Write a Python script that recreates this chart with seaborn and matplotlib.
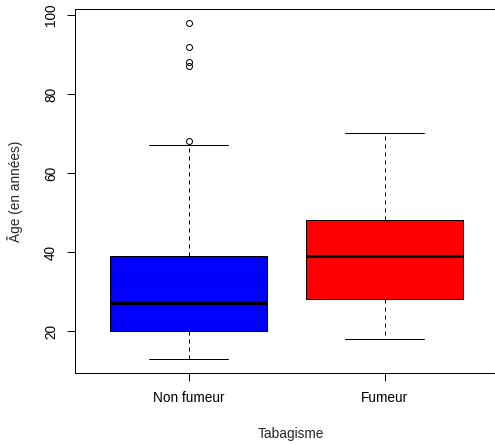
import matplotlib
matplotlib.use("Agg")
import matplotlib.pyplot as plt
import pandas as pd
import seaborn as sns

# ---- data ----
categories = ["Non fumeur", "Fumeur"]
non_fumeur_ages = [13, 15, 16, 17, 18, 19, 19, 20, 21, 22, 23, 24, 25, 26, 27,
                   29, 30, 32, 34, 35, 37, 39, 50, 67, 68, 87, 88, 92, 98]
fumeur_ages = [18, 20, 22, 24, 26, 28, 30, 33, 35, 37, 39, 41, 43, 45, 46,
               48, 52, 56, 60, 65, 70]
box_colors = ["#0000FF", "#FF0000"]
y_ticks = [20, 40, 60, 80, 100]

df = pd.DataFrame({
    "Tabagisme": [categories[0]] * len(non_fumeur_ages) + [categories[1]] * len(fumeur_ages),
    "Age": non_fumeur_ages + fumeur_ages,
})

sns.set_theme(style="ticks")
plt.rcParams["font.family"] = ["Liberation Sans", "DejaVu Sans"]

px = 0.72
fs = 9.8
fig = plt.figure(figsize=(4.95, 4.45), dpi=100)
ax_w_px = 432
ax = fig.add_axes([75 / 495, 1 - 373 / 445, ax_w_px / 495, 364 / 445])

sns.boxplot(
    data=df, x="Tabagisme", y="Age", hue="Tabagisme", order=categories,
    hue_order=categories, palette=box_colors, saturation=1, width=0.8,
    whis=1.5, linecolor="black", linewidth=1 * px, legend=False, ax=ax,
    fliersize=6 * px,
    whiskerprops=dict(linestyle=(0, (4, 4)), linewidth=1 * px, color="black"),
    capprops=dict(linewidth=1 * px, color="black"),
    medianprops=dict(linewidth=3 * px, color="black"),
    flierprops=dict(marker="o", markerfacecolor="none", markeredgecolor="black",
                    markeredgewidth=1 * px),
)

ax.set_xlim(-0.58, -0.58 + ax_w_px / 196)
ax.set_ylim(9.4, 101.5)
ax.set_yticks(y_ticks)
ax.set_yticklabels([str(t) for t in y_ticks], rotation=90, va="center")
ax.tick_params(axis="both", direction="out", length=8 * px, width=1 * px,
               color="black", labelsize=fs, labelcolor="black")
ax.tick_params(axis="y", pad=9 * px)
ax.tick_params(axis="x", pad=10 * px)

for s in ax.spines.values():
    s.set_visible(True)
    s.set_color("black")
    s.set_linewidth(1 * px)

ax.set_xlabel("Tabagisme", fontsize=fs, labelpad=22 * px)
ax.set_ylabel("Âge (en années)", fontsize=fs, labelpad=21 * px)

fig.savefig("out.png", dpi=100, facecolor="white")
